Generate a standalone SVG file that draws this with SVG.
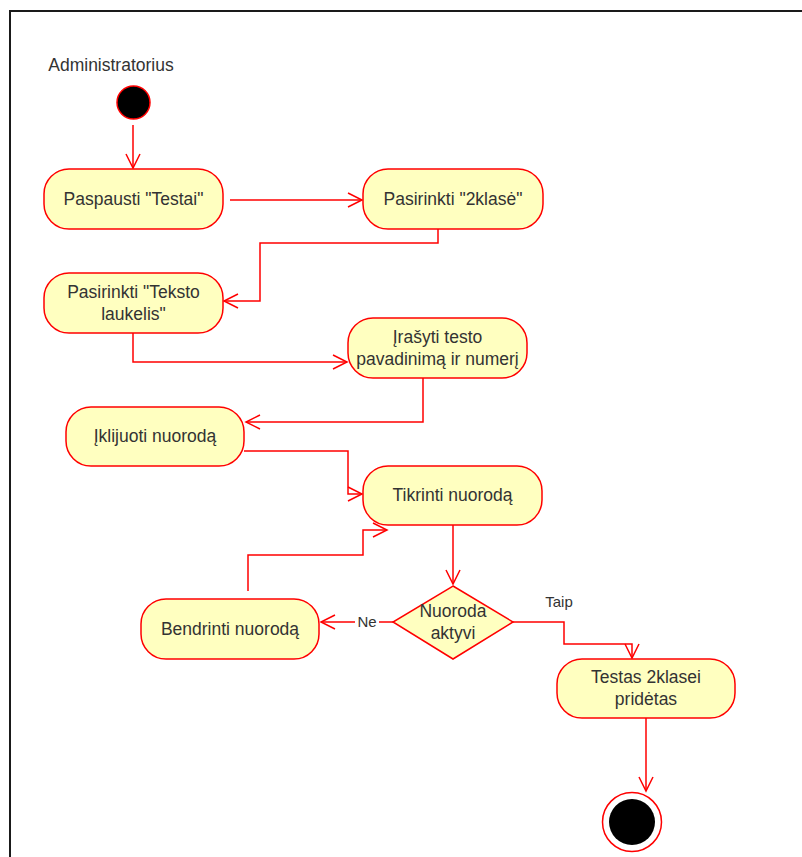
<svg xmlns="http://www.w3.org/2000/svg" width="802" height="857" viewBox="0 0 802 857">
<defs>
<style>
.act{fill:#ffffc0;stroke:#ff0000;stroke-width:1.5}
.t{font-family:"Liberation Sans",Arial,sans-serif;font-size:17.5px;fill:#333333;text-anchor:middle}
.lbl{font-family:"Liberation Sans",Arial,sans-serif;font-size:15px;fill:#333333;text-anchor:middle}
.c{fill:none;stroke:#ff0000;stroke-width:1.5;marker-end:url(#arr)}
</style>
<marker id="arr" markerUnits="userSpaceOnUse" markerWidth="20" markerHeight="20" viewBox="-16 -10 20 20" refX="0" refY="0" orient="auto">
<path d="M-14,-7 L0,0 L-14,7" fill="none" stroke="#ff0000" stroke-width="1.5"/>
</marker>
</defs>
<rect x="0" y="0" width="802" height="857" fill="#ffffff"/>
<g id="frame">
<path d="M9,11 H802 M10,11 V857" fill="none" stroke="#1a1a1a" stroke-width="2"/>
</g>
<text class="t" x="111" y="71">Administratorius</text>
<g id="connectors">
<path class="c" d="M133,125 V168"/>
<path class="c" d="M230,200 H362"/>
<path class="c" d="M438,229 V243 H260 V301 H224"/>
<path class="c" d="M133,333 V362 H347"/>
<path class="c" d="M423,378 V422 H246"/>
<path class="c" d="M244,451 H348 V494 H362"/>
<path class="c" d="M248,591 V555 H363 V530 H387"/>
<path class="c" d="M453,525 V584"/>
<path class="c" d="M393,622 H321"/>
<path class="c" d="M513,622 H564 V644 H632 V658"/>
<path class="c" d="M646,718 V791"/>
<rect x="355" y="612" width="24" height="18" fill="#ffffff"/>
<text class="lbl" x="367" y="627">Ne</text>
<text class="lbl" x="559" y="607">Taip</text>
</g>
<g id="start">
<circle cx="133.5" cy="102.5" r="16.5" fill="#000000" stroke="#ff0000" stroke-width="1.5"/>
</g>
<g id="n1">
<rect class="act" x="44" y="169" width="179" height="60" rx="25"/>
<text class="t" x="133.5" y="205">Paspausti "Testai"</text>
</g>
<g id="n2">
<rect class="act" x="363" y="169" width="180" height="60" rx="25"/>
<text class="t" x="453" y="205">Pasirinkti "2klasė"</text>
</g>
<g id="n3">
<rect class="act" x="44" y="273" width="179" height="60" rx="25"/>
<text class="t" x="133.5" y="298">Pasirinkti "Teksto</text>
<text class="t" x="133.5" y="320">laukelis"</text>
</g>
<g id="n4">
<rect class="act" x="348" y="318" width="179" height="60" rx="25"/>
<text class="t" x="437.5" y="343">Įrašyti testo</text>
<text class="t" x="437.5" y="365">pavadinimą ir numerį</text>
</g>
<g id="n5">
<rect class="act" x="66" y="407" width="178" height="59" rx="25"/>
<text class="t" x="155" y="442">Įklijuoti nuorodą</text>
</g>
<g id="n6">
<rect class="act" x="363" y="466" width="179" height="59" rx="25"/>
<text class="t" x="452.5" y="501">Tikrinti nuorodą</text>
</g>
<g id="decision">
<polygon points="453,586 513,622 453,659 393,622" fill="#ffffc0" stroke="#ff0000" stroke-width="1.5"/>
<text class="t" x="453" y="617">Nuoroda</text>
<text class="t" x="453" y="639">aktyvi</text>
</g>
<g id="n7">
<rect class="act" x="141" y="599" width="178" height="60" rx="25"/>
<text class="t" x="230" y="635">Bendrinti nuorodą</text>
</g>
<g id="n8">
<rect class="act" x="557" y="659" width="178" height="59" rx="25"/>
<text class="t" x="646" y="683">Testas 2klasei</text>
<text class="t" x="646" y="705">pridėtas</text>
</g>
<g id="end">
<circle cx="632" cy="822" r="29.5" fill="#ffffff" stroke="#ff0000" stroke-width="1.5"/>
<circle cx="632" cy="822" r="23" fill="#000000"/>
</g>
</svg>
